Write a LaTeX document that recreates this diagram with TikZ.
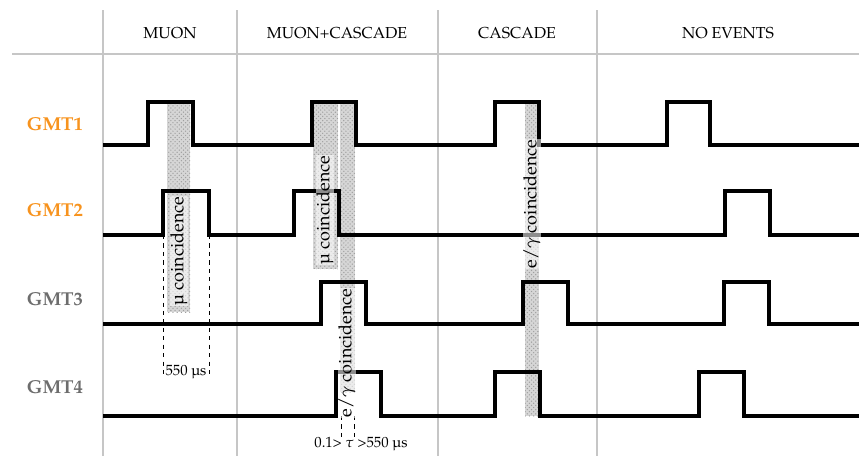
\documentclass[tikz,border=0pt]{standalone}
\usepackage[T1]{fontenc}
\usepackage{mathpazo}
\usepackage{textcomp}
\usetikzlibrary{patterns}
\definecolor{gmtorange}{HTML}{F7931E}
\definecolor{gmtgray}{HTML}{6D6D6D}
\definecolor{gridgray}{HTML}{C6C6C6}
\tikzset{
  gridline/.style={draw=gridgray, line width=2.1pt},
  signal/.style={draw=black, line width=2.5pt},
  band/.style={fill=gray!32, postaction={pattern=crosshatch dots, pattern color=gray!75}},
  bandtext/.style={rotate=90, fill=white, fill opacity=0.55, text opacity=1, inner sep=0.6pt, font=\fontsize{12.8}{14}\selectfont},
  head/.style={font=\fontsize{11.3}{13}\selectfont},
  gmtlabel/.style={anchor=east, font=\fontsize{13.3}{15}\selectfont\bfseries},
  marker/.style={draw=black, dashed, line width=0.6pt},
  marktext/.style={inner sep=1pt, font=\fontsize{10.5}{12}\selectfont}
}
\begin{document}
\begin{tikzpicture}[x=0.025cm,y=-0.025cm]
\useasboundingbox (0,0) rectangle (859,456);
\draw[gridline] (12,54) -- (859,54);
\draw[gridline] (103,10) -- (103,456);
\draw[gridline] (237,10) -- (237,456);
\draw[gridline] (438,10) -- (438,456);
\draw[gridline] (597,10) -- (597,456);
\node[head] (muon) at (170,33) {MUON};
\node[head] (muoncascade) at (337,33) {MUON+CASCADE};
\node[head] (cascade) at (517,33) {CASCADE};
\node[head] (noevents) at (728,33) {NO EVENTS};
\node[gmtlabel, text=gmtorange] (gmt1) at (88,124) {GMT1};
\node[gmtlabel, text=gmtorange] (gmt2) at (88,210) {GMT2};
\node[gmtlabel, text=gmtgray] (gmt3) at (88,299) {GMT3};
\node[gmtlabel, text=gmtgray] (gmt4) at (88,387) {GMT4};
\path[band] (167,102) rectangle (190,312);
\path[band] (313,102) rectangle (338,269);
\path[band] (340,102) rectangle (355,392);
\path[band] (525,104) rectangle (539,416);
\draw[marker] (163,235) -- (163,378);
\draw[marker] (209,235) -- (209,378);
\draw[marker] (341,416) -- (341,437);
\draw[marker] (354,416) -- (354,437);
\draw[signal] (103,145) -| (148,102) -| (193,145) -| (312,102) -| (356,145) -| (495,102) -| (539,145) -| (667,102) -| (710,145) -- (859,145);
\draw[signal] (103,235) -| (163,191) -| (209,235) -| (294,191) -| (339,235) -| (725,191) -| (770,235) -- (859,235);
\draw[signal] (103,324) -| (321,282) -| (366,324) -| (523,282) -| (568,324) -| (724,282) -| (769,324) -- (859,324);
\draw[signal] (103,416) -| (336,372) -| (381,416) -| (495,372) -| (540,416) -| (699,372) -| (744,416) -- (859,416);
\node[bandtext] (mucoinc1) at (179,251) {\textmu\ coincidence};
\node[bandtext] (mucoinc2) at (325,210) {\textmu\ coincidence};
\node[bandtext] (egcoinc1) at (347,353) {e/$\gamma$ coincidence};
\node[bandtext] (egcoinc2) at (532,204) {e/$\gamma$ coincidence};
\node[marktext] (window) at (186,372) {550 \textmu s};
\node[marktext] (delay) at (361,444) {0.1> $\tau$ >550 \textmu s};
\end{tikzpicture}
\end{document}
